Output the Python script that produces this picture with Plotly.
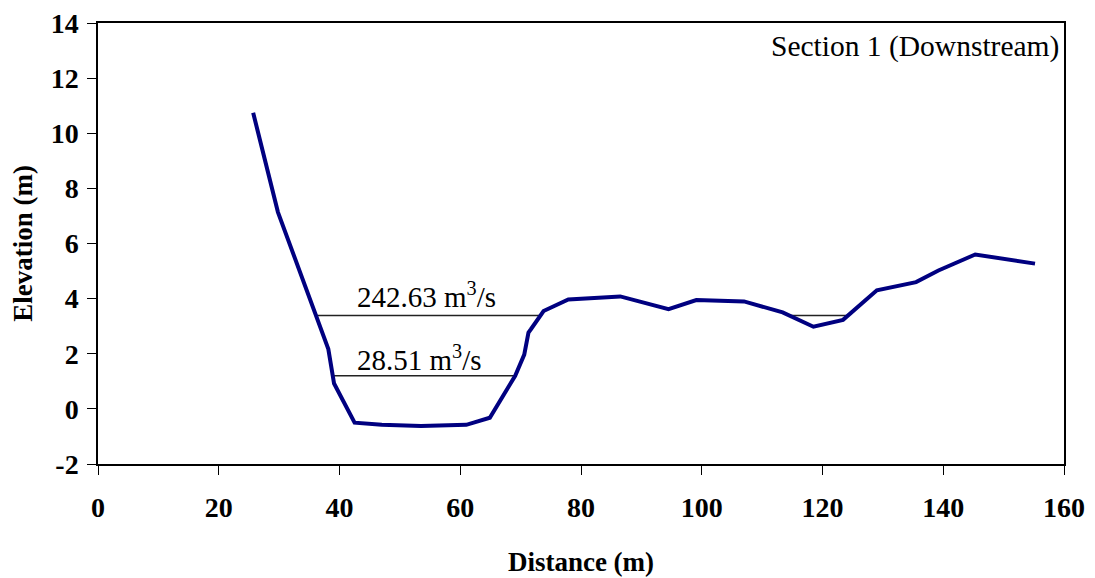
import plotly.graph_objects as go

# Cross-section profile (Section 1, Downstream)
distance_m = [25.7, 29.8, 38.15, 39.1, 42.5, 47.0, 53.5, 61.0, 64.9, 69.1, 70.6, 71.3, 71.7,
              73.8, 77.9, 86.5, 94.5, 99.1, 107.0, 113.4, 118.5, 123.4, 129.0, 135.5,
              139.2, 145.3, 155.2]
elevation_m = [10.74, 7.14, 2.17, 0.92, -0.50, -0.58, -0.62, -0.58, -0.32, 1.20, 1.97, 2.77, 2.89,
               3.55, 3.97, 4.08, 3.62, 3.95, 3.90, 3.50, 2.98, 3.23, 4.30, 4.60,
               5.02, 5.60, 5.27]

# Water surface levels for the two discharges
flow_labels = ["242.63 m<sup>3</sup>/s", "28.51 m<sup>3</sup>/s"]
water_levels = [3.39, 1.20]
label_x = [42.6, 42.6]
label_y = [4.12, 1.86]

x_ticks = [0, 20, 40, 60, 80, 100, 120, 140, 160]
y_ticks = [-2, 0, 2, 4, 6, 8, 10, 12, 14]

FONT = "Liberation Serif, Times New Roman, serif"


def wet_segments(xs, ys, level):
    """Segments of the water line where the ground is below the water level."""
    segs = []
    start = None
    for i in range(len(xs) - 1):
        x0, y0, x1, y1 = xs[i], ys[i], xs[i + 1], ys[i + 1]
        below0 = y0 < level
        below1 = y1 < level
        if below0 != below1:
            xc = x0 + (level - y0) / (y1 - y0) * (x1 - x0)
            if not below0:
                start = xc
            else:
                if start is not None:
                    segs.append((start, xc))
                start = None
    return segs


fig = go.Figure()

for lvl in water_levels:
    xs, ys = [], []
    for a, b in wet_segments(distance_m, elevation_m, lvl):
        xs += [a, b, None]
        ys += [lvl, lvl, None]
    fig.add_trace(go.Scatter(x=xs, y=ys, mode="lines",
                             line=dict(color="#222222", width=1.5),
                             showlegend=False, hoverinfo="skip"))

fig.add_trace(go.Scatter(x=distance_m, y=elevation_m, mode="lines",
                         line=dict(color="#000080", width=4),
                         showlegend=False, name="Ground"))

for txt, lx, ly in zip(flow_labels, label_x, label_y):
    fig.add_annotation(x=lx, y=ly, text=txt, showarrow=False,
                       xanchor="left", yanchor="middle",
                       font=dict(family=FONT, size=29, color="black"))

fig.add_annotation(xref="paper", yref="y", x=0.997, y=13.13,
                   text="Section 1 (Downstream)", showarrow=False,
                   xanchor="right", yanchor="middle",
                   font=dict(family=FONT, size=29.5, color="black"))

# The page places the figure 8 px from the top-left corner of the window.
fig.update_layout(
    width=1087, height=570,
    margin=dict(l=90, r=31, t=15, b=114),
    paper_bgcolor="white", plot_bgcolor="white",
    font=dict(family=FONT, color="black"),
)

fig.update_xaxes(
    range=[0, 160], tickvals=x_ticks, ticktext=[str(v) for v in x_ticks],
    showgrid=False, zeroline=False, automargin=False,
    showline=True, linecolor="black", linewidth=1.5, mirror=True,
    ticks="outside", ticklen=9, tickcolor="black", tickwidth=1,
    tickfont=dict(family=FONT, size=28, weight="bold"),
    ticklabelstandoff=9, ticklabeloverflow="allow",
    title=dict(text="Distance (m)", standoff=30,
               font=dict(family=FONT, size=27, weight="bold")),
)
fig.update_yaxes(
    range=[-2, 14], tickvals=y_ticks, ticktext=[str(v) for v in y_ticks],
    showgrid=False, zeroline=False, automargin=False,
    showline=True, linecolor="black", linewidth=1.5, mirror=True,
    ticks="outside", ticklen=9, tickcolor="black", tickwidth=1,
    tickfont=dict(family=FONT, size=28, weight="bold"),
    ticklabelstandoff=3, ticklabeloverflow="allow",
    title=dict(text="Elevation (m)", standoff=13,
               font=dict(family=FONT, size=27, weight="bold")),
)

fig.write_html("out.html")
